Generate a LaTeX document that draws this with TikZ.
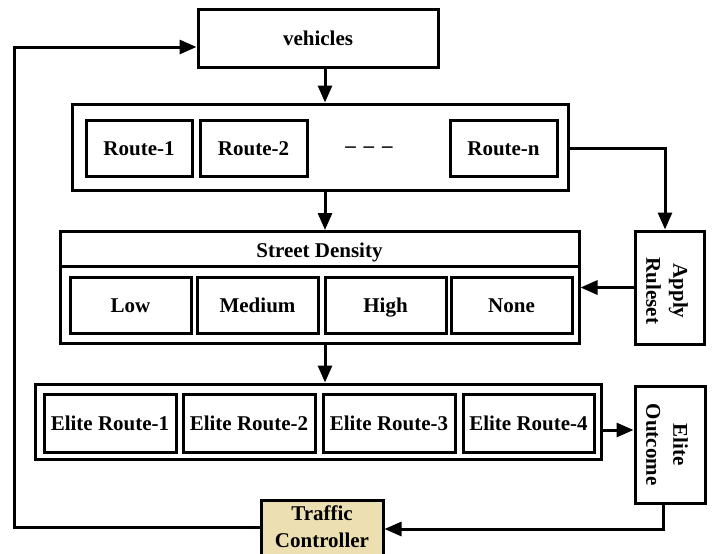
\documentclass[tikz,border=0pt]{standalone}
\usepackage{fontspec}
\setmainfont{Liberation Serif}
\usetikzlibrary{arrows.meta}
\definecolor{tanfill}{RGB}{236,223,178}
\tikzset{
  box/.style={draw, line width=3pt, inner sep=0pt, align=center,
    text height=17pt, text depth=3pt,
    font=\fontsize{21}{27}\selectfont\bfseries},
  lbl/.style={inner sep=0pt, align=center, font=\fontsize{21}{27}\selectfont\bfseries},
  conn/.style={line width=3pt},
  arr/.style={line width=3pt, -{Triangle[length=17pt,width=14pt]}},
}
\begin{document}
\begin{tikzpicture}[x=1pt,y=-1pt]
\clip (0,0) rectangle (712,554);
\fill[white] (0,0) rectangle (712,554);
% top
\node[box, minimum width=240pt, minimum height=58pt] (veh) at (318,38) {vehicles};
% routes
\node[box, minimum width=496pt, minimum height=86pt] (routes) at (320,147) {};
\node[box, minimum width=106pt, minimum height=56pt] (r1) at (139,148) {Route-1};
\node[box, minimum width=107pt, minimum height=56pt] (r2) at (253.5,148) {Route-2};
\node[lbl] (dots) at (369,150) {–\hspace{8pt}–\hspace{8pt}–};
\node[box, minimum width=107pt, minimum height=56pt] (rn) at (503.5,148) {Route-n};
% street density
\node[box, minimum width=519pt, minimum height=112pt] (sd) at (319.5,287.5) {};
\coordinate (hdr) at (0,266);
\draw[conn] (sd.west |- hdr) -- (sd.east |- hdr);
\node[lbl, text height=17pt, text depth=3pt] (sdt) at (319.5,250) {Street Density};
\node[box, minimum width=121pt, minimum height=56pt] (low) at (130.5,305) {Low};
\node[box, minimum width=121pt, minimum height=56pt] (med) at (257.5,305) {Medium};
\node[box, minimum width=121pt, minimum height=56pt] (high) at (385.5,305) {High};
\node[box, minimum width=121pt, minimum height=56pt] (none) at (511.5,305) {None};
% apply
\node[box, minimum width=69pt, minimum height=113pt] (apply) at (669.5,287.5) {};
\node[lbl, rotate=-90] (applyt) at (667,291) {Apply\\Ruleset};
% elite
\node[box, minimum width=566pt, minimum height=75pt] (elite) at (318,421.5) {};
\node[box, minimum width=132pt, minimum height=58pt] (er1) at (110,423) {Elite Route-1};
\node[box, minimum width=132pt, minimum height=58pt] (er2) at (249,423) {Elite Route-2};
\node[box, minimum width=132pt, minimum height=58pt] (er3) at (389,423) {Elite Route-3};
\node[box, minimum width=131pt, minimum height=58pt] (er4) at (528.5,423) {Elite Route-4};
\node[box, minimum width=70pt, minimum height=117pt] (eo) at (670,444.5) {};
\node[lbl, rotate=-90] (eot) at (667,444.5) {Elite\\Outcome};
% traffic controller
\node[box, fill=tanfill, minimum width=122pt, minimum height=72pt, anchor=north] (tc) at (322,499) {};
\node[lbl] (tct) at (322,527) {Traffic\\Controller};
% connectors
\coordinate (colM) at (325,0);
\draw[arr] (veh.south -| colM) -- (routes.north -| colM);
\draw[arr] (routes.south -| colM) -- (sd.north -| colM);
\draw[arr] (sd.south -| colM) -- (elite.north -| colM);
\coordinate (colA) at (665,0);
\draw[arr] (routes.east |- rn.east) -- (colA |- rn.east) -- (colA |- apply.north);
\draw[arr] (apply.west) -- (sd.east |- apply.west);
\coordinate (rowE) at (0,430);
\draw[arr] (elite.east |- rowE) -- (eo.west |- rowE);
\coordinate (colO) at (663,0);
\coordinate (rowB) at (0,529);
\draw[arr] (colO |- eo.south) -- (colO |- rowB) -- (tc.east |- rowB);
\coordinate (loopA) at (14,527);
\coordinate (loopB) at (14,47);
\draw[arr] (tc.west |- loopA) -- (loopA) -- (loopB) -- (veh.west |- loopB);
\end{tikzpicture}
\end{document}
